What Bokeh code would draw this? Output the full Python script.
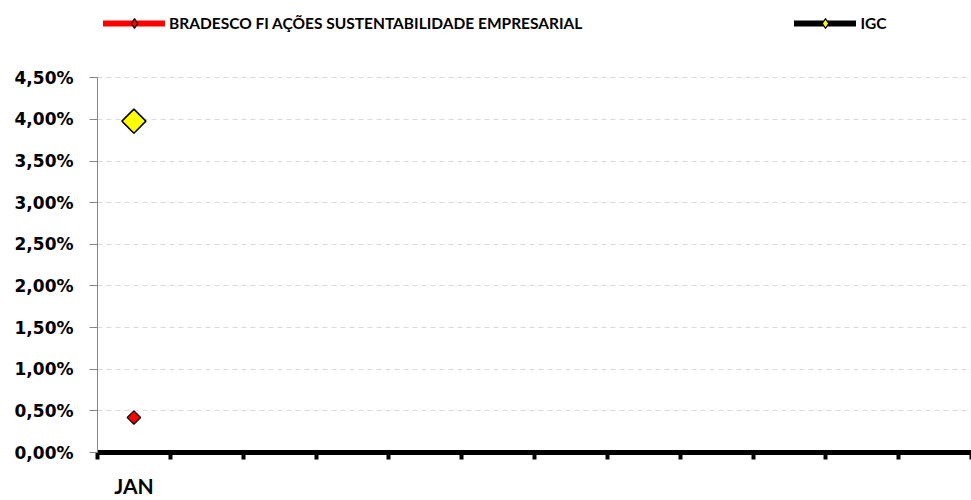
import math
from bokeh.plotting import figure
from bokeh.models import (Range1d, FixedTicker, CustomJSTickFormatter, Legend, LegendItem,
                          ColumnDataSource)
from bokeh.embed import file_html
from bokeh.resources import INLINE

# ---- data ----
months = ["JAN"]
n_slots = 12
bradesco = [0.42]
igc = [3.98]
series_names = ["BRADESCO FI AÇÕES SUSTENTABILIDADE EMPRESARIAL", "IGC"]
y_ticks = [0, 0.5, 1.0, 1.5, 2.0, 2.5, 3.0, 3.5, 4.0, 4.5]
y_max = 4.5

FONT = "Lato"

x_pos = [i + 0.5 for i in range(len(months))]

# the frame reaches the top of the figure so that the legend can sit above the y axis
p = figure(width=971, height=500, output_backend="svg", toolbar_location=None,
           x_range=Range1d(0, n_slots), y_range=Range1d(0, 5.429),
           min_border_left=97, min_border_right=0, min_border_top=0, min_border_bottom=46)
p.outline_line_color = None
p.background_fill_color = "white"
p.border_fill_color = "white"

# grid
p.xgrid.visible = False
p.ygrid.grid_line_color = "#d9d9d9"
p.ygrid.grid_line_dash = "5 4"
p.ygrid.grid_line_width = 1
p.ygrid.ticker = FixedTicker(ticks=y_ticks)

# y axis
p.yaxis.bounds = (0, y_max)
p.yaxis.ticker = FixedTicker(ticks=y_ticks)
p.yaxis.formatter = CustomJSTickFormatter(code="return tick.toFixed(2).replace('.', ',') + '%';")
p.yaxis.axis_line_color = "#868686"
p.yaxis.axis_line_width = 1
p.yaxis.major_tick_line_color = "#868686"
p.yaxis.major_tick_out = 8
p.yaxis.major_tick_in = 0
p.yaxis.minor_tick_line_color = None
p.yaxis.major_label_standoff = 16
p.yaxis.major_label_text_font = "DejaVu Sans"
p.yaxis.major_label_text_font_style = "bold"
p.yaxis.major_label_text_font_size = "17px"
p.yaxis.major_label_text_color = "black"

# x axis: labels at slot centres, tick marks at slot boundaries (minor ticks)
p.xaxis.ticker = FixedTicker(ticks=x_pos, minor_ticks=list(range(n_slots + 1)))
p.xaxis.major_label_overrides = {x: m for x, m in zip(x_pos, months)}
p.xaxis.axis_line_color = "black"
p.xaxis.axis_line_width = 5
p.xaxis.major_tick_line_color = None
p.xaxis.minor_tick_line_color = "black"
p.xaxis.minor_tick_line_width = 4
p.xaxis.minor_tick_out = 7
p.xaxis.minor_tick_in = 0
p.xaxis.major_label_standoff = 13
p.xaxis.major_label_text_font = FONT
p.xaxis.major_label_text_font_style = "bold"
p.xaxis.major_label_text_font_size = "21px"
p.xaxis.major_label_text_color = "black"

src = ColumnDataSource(dict(x=x_pos, b=bradesco, g=igc))

# lines (only visible in the legend, single point each)
l1 = p.line("x", "b", source=src, line_color="red", line_width=6, line_cap="round")
l2 = p.line("x", "g", source=src, line_color="black", line_width=6, line_cap="round")
# diamonds used for the legend symbol (hidden under the chart markers)
d1 = p.scatter("x", "b", source=src, marker="diamond", size=8,
               fill_color="red", line_color="black", line_width=1.2)
d2 = p.scatter("x", "g", source=src, marker="diamond", size=8,
               fill_color="yellow", line_color="black", line_width=1.2)
# chart markers
s1 = p.scatter("x", "b", source=src, marker="square", size=9.5, angle=math.pi / 4,
               fill_color="red", line_color="black", line_width=1.2)
s2 = p.scatter("x", "g", source=src, marker="square", size=17, angle=math.pi / 4,
               fill_color="yellow", line_color="black", line_width=1.5)

legend = Legend(items=[LegendItem(label=series_names[0], renderers=[l1, d1]),
                       LegendItem(label=series_names[1], renderers=[l2, d2])],
                orientation="horizontal", location=(6, 417),
                glyph_width=62, glyph_height=24, label_standoff=4, spacing=212,
                padding=6, margin=0, border_line_color=None, background_fill_alpha=0,
                label_text_font=FONT, label_text_font_style="bold",
                label_text_font_size="15.5px", label_text_color="black")
p.add_layout(legend, "center")

open("out.html", "w").write(file_html(p, INLINE))
